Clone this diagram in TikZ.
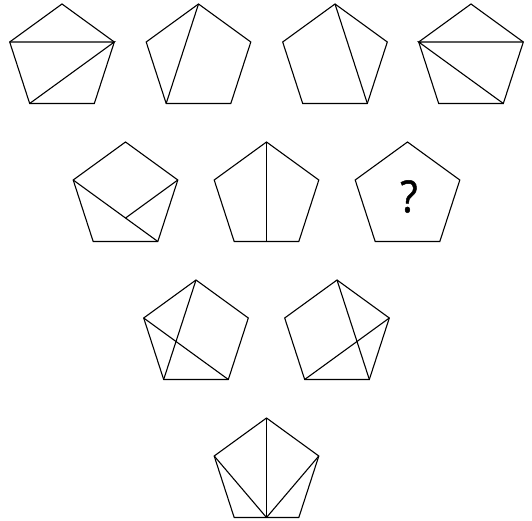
\documentclass[tikz,border=0pt]{standalone}
\usepackage{fontspec}
\newfontfamily\qfont[FakeBold=1.2]{Open Sans}
\usetikzlibrary{shapes.geometric}
\tikzset{
  pent/.style={regular polygon, regular polygon sides=5, minimum size=110pt,
    inner sep=0pt, outer sep=0pt, draw, line width=1.1pt, line join=miter},
  diag/.style={line width=1.1pt}
}
\begin{document}
\begin{tikzpicture}[x=1pt,y=-1pt]
\useasboundingbox (0,0) rectangle (532,521);
% row 1
\node[pent] (p1) at (62,59) {};
\node[pent] (p2) at (198.5,59) {};
\node[pent] (p3) at (335,59) {};
\node[pent] (p4) at (471,59) {};
% row 2
\node[pent] (p5) at (125.5,197) {};
\node[pent] (p6) at (266.5,197) {};
\node[pent] (p7) at (407.5,197) {};
% row 3
\node[pent] (p8) at (196,335) {};
\node[pent] (p9) at (337,335) {};
% row 4
\node[pent] (p10) at (266.5,473) {};
% corners: 1 top, 2 upper-left, 3 lower-left, 4 lower-right, 5 upper-right
\draw[diag] (p1.corner 2) -- (p1.corner 5) -- (p1.corner 3);
\draw[diag] (p2.corner 1) -- (p2.corner 3);
\draw[diag] (p3.corner 1) -- (p3.corner 4);
\draw[diag] (p4.corner 5) -- (p4.corner 2) -- (p4.corner 4);
\draw[diag] (p5.corner 2) -- (p5.corner 4);
\draw[diag] (p5.corner 5) -- (intersection of p5.corner 2--p5.corner 4 and p5.corner 5--p5.corner 3);
\draw[diag] (p6.corner 1) -- (p6.side 3);
\node[font=\qfont\fontsize{40}{40}\selectfont, inner sep=0pt, yscale=1.1] (q) at (409,196.5) {?};
\draw[diag] (p8.corner 1) -- (p8.corner 3);
\draw[diag] (p8.corner 2) -- (p8.corner 4);
\draw[diag] (p9.corner 1) -- (p9.corner 4);
\draw[diag] (p9.corner 5) -- (p9.corner 3);
\draw[diag] (p10.corner 1) -- (p10.side 3);
\draw[diag] (p10.corner 2) -- (p10.side 3);
\draw[diag] (p10.corner 5) -- (p10.side 3);
\end{tikzpicture}
\end{document}
